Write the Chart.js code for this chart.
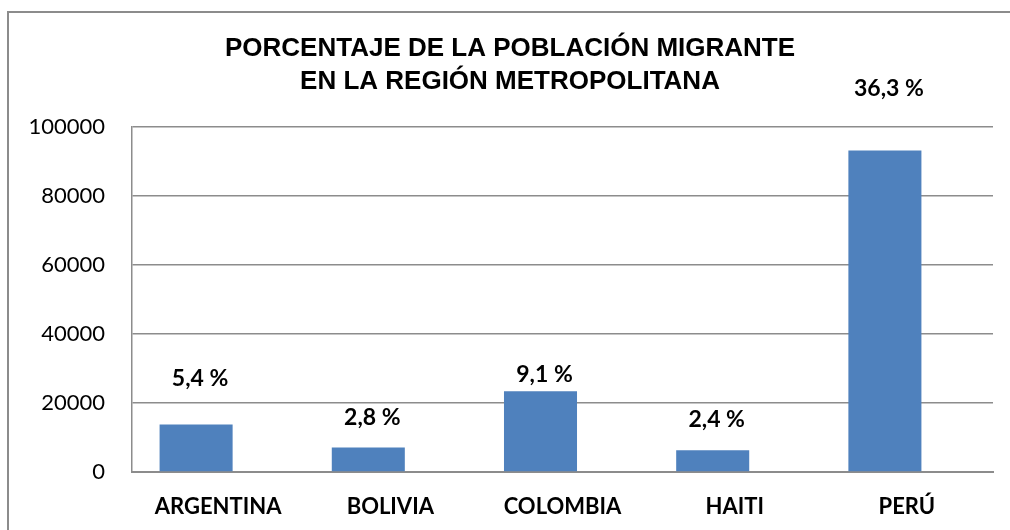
<!DOCTYPE html>
<html>
<head>
<meta charset="utf-8">
<script src="https://cdn.jsdelivr.net/npm/chart.js@4"></script>
<style>
  body { margin: 0; background: #fff; }
  #wrap { position: relative; width: 1010px; height: 530px; }
  #frame {
    position: absolute; left: 7px; top: 11px; right: 0; bottom: 0;
    border-left: 2px solid #8c8c8c; border-top: 2px solid #8c8c8c;
    pointer-events: none;
  }
</style>
</head>
<body>
<div id="wrap">
  <canvas id="myChart" width="1010" height="530"></canvas>
  <div id="frame"></div>
</div>
<script>
const countries = ["ARGENTINA", "BOLIVIA", "COLOMBIA", "HAITI", "PERÚ"]
const migrants = [13800, 7100, 23400, 6300, 93200]
const shares = [5.4, 2.8, 9.1, 2.4, 36.3]
const yTicks = [0, 20000, 40000, 60000, 80000, 100000]

// how far each % label sits above its bar (moved by hand in the original)
const labelLift = [46, 30, 17, 31, 62]

const shareLabels = {
    id: 'shareLabels',
    afterDatasetsDraw(chart) {
        const ctx = chart.ctx
        const meta = chart.getDatasetMeta(0)
        ctx.save()
        ctx.font = 'bold 23px Lato'
        ctx.fillStyle = '#000'
        ctx.textAlign = 'center'
        ctx.textBaseline = 'middle'
        meta.data.forEach((bar, i) => {
            const txt = shares[i].toFixed(1).replace('.', ',') + ' %'
            ctx.fillText(txt, bar.x + 4, bar.y - labelLift[i])
        })
        ctx.restore()
    }
}

new Chart("myChart", {
    type: "bar",
    data: {
        labels: countries,
        datasets: [
            {
                data: migrants,
                backgroundColor: "#4f81bd",
                categoryPercentage: 0.511,
                barPercentage: 1.66
            },
            {
                // empty second series, keeps the bars off-centre like the original
                data: [],
                backgroundColor: "#4f81bd",
                categoryPercentage: 0.511,
                barPercentage: 1.66
            }
        ]
    },
    options: {
        responsive: false,
        animation: false,
        layout: { padding: { left: 27, right: 17, top: 0, bottom: 0 } },
        plugins: {
            legend: { display: false },
            tooltip: { enabled: false },
            title: {
                display: true,
                text: ["PORCENTAJE DE LA POBLACIÓN MIGRANTE", "EN LA REGIÓN METROPOLITANA"],
                color: '#000',
                font: { family: 'Liberation Sans', size: 26, weight: 'bold', lineHeight: 1.27 },
                padding: { top: 32.5, bottom: 28.5 }
            }
        },
        scales: {
            y: {
                min: 0,
                max: 100000,
                afterFit: s => { s.width = 105 },
                afterBuildTicks: s => { s.ticks = yTicks.map(v => ({ value: v })) },
                ticks: {
                    color: '#000',
                    padding: 27,
                    font: { family: 'Lato', size: 22 },
                    callback: v => v
                },
                grid: { color: '#8c8c8c', lineWidth: 1.5, drawTicks: false },
                border: { color: '#8c8c8c', width: 1.5 }
            },
            x: {
                afterFit: s => { s.height = 58 },
                ticks: {
                    color: '#000',
                    padding: 22,
                    font: { family: 'Lato', size: 22, weight: 'bold' }
                },
                grid: { display: false, drawTicks: false },
                border: { color: '#8c8c8c', width: 2 }
            }
        }
    },
    plugins: [shareLabels]
});
</script>
</body>
</html>
